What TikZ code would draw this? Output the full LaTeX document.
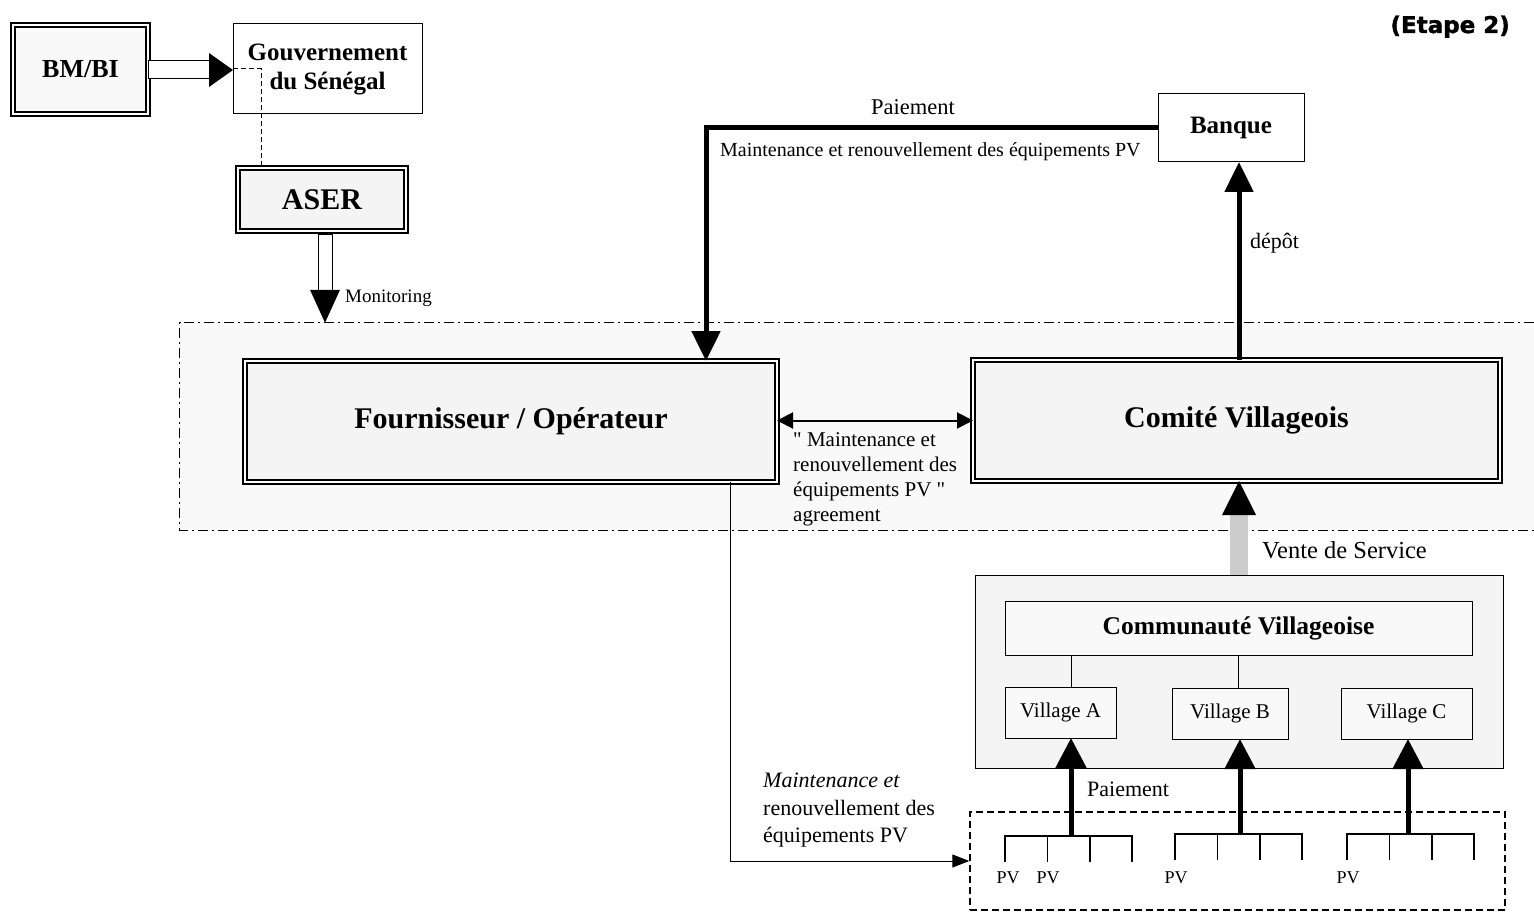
\documentclass[tikz,border=0pt]{standalone}
\usepackage{fontspec}
\setmainfont{Liberation Serif}
\newfontfamily\headfont[BoldFeatures={FakeBold=1.6}]{DejaVu Sans}
\usetikzlibrary{arrows.meta,calc}

\definecolor{grain}{gray}{0.955}
\definecolor{grainlight}{gray}{0.975}

\begin{document}
\begin{tikzpicture}[x=1pt,y=-1pt,
  box/.style={draw, line width=1pt, inner sep=0pt, outer sep=0pt, align=center},
  dbox/.style={draw, double=white, double distance=2.6pt, line width=1.4pt,
               inner sep=0pt, outer sep=0pt, align=center},
  dashdot/.style={line width=1.3pt, dash pattern=on 10pt off 4pt on 2pt off 4pt},
  thickarrow/.style={line width=5pt, -{Triangle[length=30pt,width=28pt]}},
  villarrow/.style={line width=5pt, -{Triangle[length=30pt,width=30pt]}},
  comb/.style={line width=1.6pt},
  lbl/.style={inner sep=0pt, font=\fontsize{20}{25}\selectfont},
]
\useasboundingbox (0,0) rectangle (1534,920);

% ---- top left: funding and agency ----
\node[dbox, fill=grainlight, minimum width=135, minimum height=89,
      font=\bfseries\fontsize{26}{30}\selectfont] (bm) at (80.5,69.5) {BM/BI};
\node[box, minimum width=189, minimum height=90,
      font=\bfseries\fontsize{25}{29}\selectfont] (gouv) at (327.5,69) {Gouvernement\\du Sénégal};
\node[dbox, fill=grain, minimum width=168, minimum height=63,
      font=\bfseries\fontsize{30}{33}\selectfont] (aser) at (322,199.5) {ASER};

% hollow block arrow BM/BI -> Gouvernement
\coordinate (bmA) at (bm.east);
\coordinate (gvA) at ($(gouv.west)+(0,1)$);
\draw[line width=1pt, fill=white] ($(bmA)+(0,-8.5)$) rectangle ($(gvA)+(-23,9)$);
\fill[black] ($(gvA)+(-24,-17)$) -- (gvA) -- ($(gvA)+(-24,17)$) -- cycle;

% dashed link Gouvernement -> ASER
\draw[dashed, line width=1pt, dash pattern=on 5pt off 3pt]
  (gouv.west) -| ($(aser.north west)+(23,0)$);

% ---- zone of agreement ----
\node[fill=grainlight, inner sep=0pt, minimum width=1354, minimum height=207] (zone) at (857,426.5) {};
\draw[dashdot] (zone.north east) -- (zone.north west) -- (zone.south west) -- (zone.south east);

% monitoring arrow ASER -> zone
\coordinate (mon) at ($(aser.south)+(3,4)$);
\coordinate (monT) at (mon |- zone.north);
\draw[line width=1pt, fill=white] ($(mon)+(-7,0)$) rectangle ($(monT)+(7,-32)$);
\fill[black] ($(monT)+(-15,-33)$) -- (monT) -- ($(monT)+(15,-33)$) -- cycle;
\node[lbl, anchor=base west, font=\fontsize{19}{22}\selectfont] (monlbl) at (345,302) {Monitoring};

\node[dbox, fill=grain, minimum width=532, minimum height=121,
      font=\bfseries\fontsize{30}{34}\selectfont] (four) at (511,421.5) {Fournisseur / Opérateur};
\node[dbox, fill=grain, minimum width=527, minimum height=121,
      font=\bfseries\fontsize{30}{34}\selectfont] (comite) at (1236.5,420.5) {Comité Villageois};

\draw[line width=2pt, {Triangle[length=16pt,width=16pt]}-{Triangle[length=16pt,width=16pt]}]
  (four.east |- comite.west) -- (comite.west);
\node[lbl, anchor=north west, align=left, font=\fontsize{21}{25}\selectfont] (agr) at (793,432)
  {\textquotedbl{} Maintenance et\\renouvellement des\\équipements PV \textquotedbl\\agreement};

% ---- bank ----
\node[box, minimum width=146, minimum height=68,
      font=\bfseries\fontsize{25}{29}\selectfont] (banque) at (1231,128) {Banque};

\draw[thickarrow] (banque.west) -| ($(four.north east)+(-71,0)$);
\node[lbl, anchor=base, font=\fontsize{22.5}{26}\selectfont] (paylbl) at (913,115) {Paiement};
\node[lbl, anchor=base west] (mrlbl) at (720,157) {Maintenance et renouvellement des équipements PV};

\coordinate (dep) at ($(comite.north)+(2.5,0)$);
\draw[thickarrow] (dep) -- (dep |- banque.south);
\node[lbl, anchor=base west, font=\fontsize{22}{25}\selectfont] (deplbl) at (1250,248) {dépôt};

% ---- village community ----
\node[box, fill=grain, minimum width=528, minimum height=193] (commouter) at (1239,671.5) {};
\node[box, fill=grainlight, minimum width=467, minimum height=54,
      font=\bfseries\fontsize{25.5}{29}\selectfont] (commv) at (1238.5,628) {Communauté Villageoise};
\node[box, fill=grainlight, minimum width=111, minimum height=51,
      font=\fontsize{21}{24}\selectfont] (va) at (1060.5,712.5) {Village A};
\node[box, fill=grainlight, minimum width=116, minimum height=51,
      font=\fontsize{21}{24}\selectfont] (vb) at (1230,713.5) {Village B};
\node[box, fill=grainlight, minimum width=131, minimum height=51,
      font=\fontsize{21}{24}\selectfont] (vc) at (1406.5,713.5) {Village C};

% sale of service -> committee
\coordinate (vtT) at (commouter.north |- comite.south);
\fill[gray!40] ($(commouter.north)+(-9,0)$) rectangle ($(vtT)+(9,33)$);
\fill[black] ($(vtT)+(-17,34)$) -- (vtT) -- ($(vtT)+(17,34)$) -- cycle;
\node[lbl, anchor=base west, font=\fontsize{24.5}{28}\selectfont] (vtlbl) at (1262,558) {Vente de Service};

% ---- PV installations ----
\node[draw, line width=1.4pt, dash pattern=on 7pt off 4pt, inner sep=0pt,
      minimum width=535, minimum height=98] (pvbox) at (1237.5,861) {};

\foreach \gx/\gy/\ax/\nm in {1005/836/1071/A, 1175/834/1240/B, 1347/834/1408/C} {
  \draw[comb] (\gx,\gy+26) -- (\gx,\gy) -- (\gx+127,\gy) -- (\gx+127,\gy+26);
  \draw[comb] (\gx+42.5,\gy) -- (\gx+42.5,\gy+26);
  \draw[comb] (\gx+85,\gy) -- (\gx+85,\gy+26);
  \coordinate (comb\nm) at (\ax,\gy);
}
\node[lbl, font=\fontsize{18}{22}\selectfont, anchor=base] (pv1) at (1008,883) {PV};
\node[lbl, font=\fontsize{18}{22}\selectfont, anchor=base] (pv2) at (1048,883) {PV};
\node[lbl, font=\fontsize{18}{22}\selectfont, anchor=base] (pv3) at (1176,883) {PV};
\node[lbl, font=\fontsize{18}{22}\selectfont, anchor=base] (pv4) at (1348,883) {PV};

% links community -> villages
\draw[line width=1pt] (commv.south -| combA) -- (va.north -| combA);
\draw[line width=1pt] ($(commv.south -| combB)+(-2,0)$) -- ($(vb.north -| combB)+(-2,0)$);

% payments PV -> villages
\draw[villarrow] (combA) -- (combA |- va.south);
\draw[villarrow] (combB) -- (combB |- vb.south);
\draw[villarrow] (combC) -- (combC |- vc.south);
\node[lbl, anchor=base west, font=\fontsize{22}{25}\selectfont] (paylbl2) at (1087,796) {Paiement};

% maintenance from operator to PV installations
\coordinate (fmo) at ($(four.south west)+(485,0)$);
\draw[line width=1pt, -{Triangle[length=17pt,width=13pt]}] (fmo) |- (pvbox.west);
\node[lbl, anchor=north west, align=left, font=\fontsize{22}{27.5}\selectfont] (mlbl) at (763,773)
  {\textit{Maintenance et}\\renouvellement des\\équipements PV};

% ---- step title ----
\node[inner sep=0pt, anchor=base east, font=\headfont\bfseries\fontsize{23}{27}\selectfont] (etape) at (1510,33) {(Etape 2)};
\end{tikzpicture}
\end{document}
